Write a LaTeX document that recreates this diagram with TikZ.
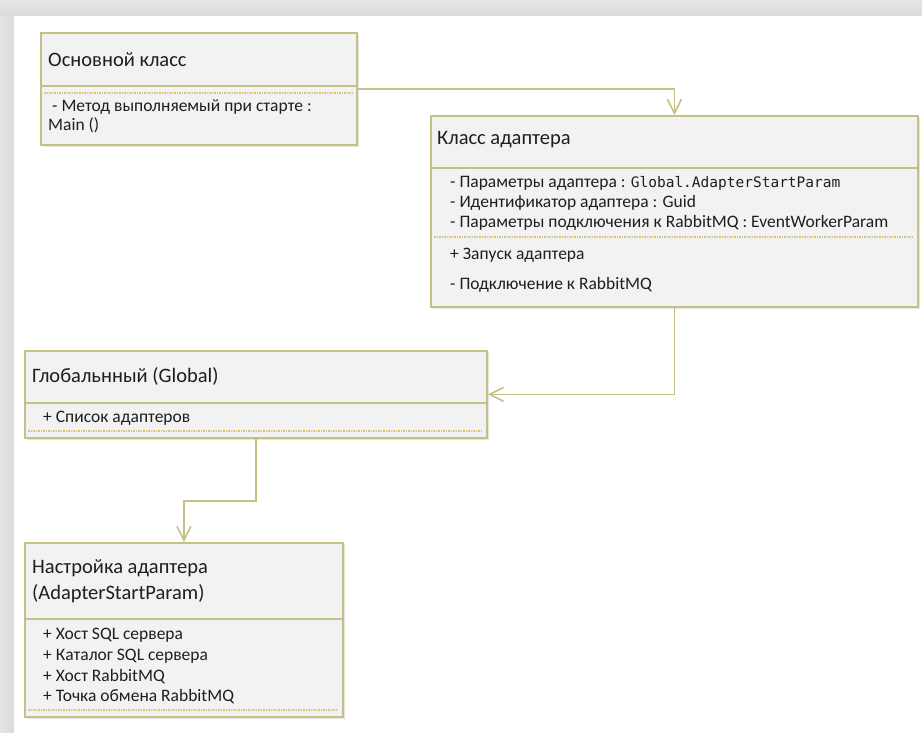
\documentclass[tikz,border=0pt]{standalone}
\usepackage{fontspec}
\setmainfont{Carlito}
\newfontfamily\codefont{DejaVu Sans Mono}
\usetikzlibrary{arrows.meta}
\definecolor{edge}{RGB}{198,192,135}
\definecolor{dots}{RGB}{214,196,120}
\definecolor{boxfill}{RGB}{242,242,242}
\definecolor{ink}{RGB}{30,30,30}
\begin{document}
\begin{tikzpicture}[x=1pt,y=-1pt,
 box/.style={draw=edge,line width=1.8pt,fill=boxfill,anchor=north west,inner sep=0pt},
 title/.style={anchor=west,font=\fontsize{20.5}{24}\selectfont,text=ink,inner sep=0pt},
 item/.style={anchor=west,font=\fontsize{17.5}{20}\selectfont,text=ink,inner sep=0pt},
 sep/.style={draw=edge,line width=1.6pt},
 dotsep/.style={draw=dots,line width=1.1pt,dash pattern=on 1.5pt off 1pt},
 conn/.style={draw=edge,line width=1.6pt,-{Straight Barb[length=14pt,width=14pt,line width=1.6pt]}},
 shade/.style={fill=black,opacity=0.10}
]
\useasboundingbox (0,0) rectangle (922,733);
\fill[white] (0,0) rectangle (922,733);
% window frame shadow
\shade[top color=black!8,bottom color=black!45] (0,0) rectangle (922,16);
\shade[left color=black!8,right color=black!48] (0,16) rectangle (14,733);

% box shadows
\fill[shade] (43,35) rectangle (359,147);
\fill[shade] (433,118) rectangle (920,309);
\fill[shade] (27,353) rectangle (489,440);
\fill[shade] (27,545) rectangle (345,719);

% Основной класс
\node[box,minimum width=316pt,minimum height=112pt] (main) at (40,32) {};
\draw[sep] (40,86) -- (356,86);
\draw[dotsep] (44,93) -- (352,93);
\node[title] (mainT) at (48,60) {Основной класс};
\node[item] (mainA) at (52,107) {- Метод выполняемый при старте :};
\node[item] (mainB) at (48,125) {Main ()};

% Класс адаптера
\node[box,minimum width=487pt,minimum height=191pt] (adapter) at (430,115) {};
\draw[sep] (430,168) -- (917,168);
\draw[dotsep] (434,237) -- (913,237);
\node[title] (adT) at (437,140) {Класс адаптера};
\node[item] (adA) at (450,183) {- Параметры адаптера : {\codefont\fontsize{14.5}{17}\selectfont Global.AdapterStartParam}};
\node[item] (adB) at (450,203) {- Идентификатор адаптера : Guid};
\node[item] (adC) at (450,223) {- Параметры подключения к RabbitMQ : EventWorkerParam};
\node[item] (adD) at (450,255) {+ Запуск адаптера};
\node[item] (adE) at (450,285) {- Подключение к RabbitMQ};

% Глобальнный
\node[box,minimum width=462pt,minimum height=87pt] (global) at (24,350) {};
\draw[sep] (24,403) -- (486,403);
\draw[dotsep] (28,431) -- (482,431);
\node[title] (glT) at (32,376) {Глобальнный (Global)};
\node[item] (glA) at (43,418) {+ Список адаптеров};

% Настройка адаптера
\node[box,minimum width=318pt,minimum height=174pt] (setup) at (24,542) {};
\draw[sep] (24,619) -- (342,619);
\draw[dotsep] (28,710) -- (338,710);
\node[title] (stT) at (32,568) {Настройка адаптера};
\node[title] (stT2) at (32,594) {(AdapterStartParam)};
\node[item] (stA) at (43,635) {+ Хост SQL сервера};
\node[item] (stB) at (43,656) {+ Каталог SQL сервера};
\node[item] (stC) at (43,677) {+ Хост RabbitMQ};
\node[item] (stD) at (43,697) {+ Точка обмена RabbitMQ};

% connectors
\draw[conn] (main.east) -| (adapter.north);
\draw[conn] (adapter.south) |- (global.east);
\draw[conn] (global.south) -- ++(0,62) -| (setup.north);
\end{tikzpicture}
\end{document}
